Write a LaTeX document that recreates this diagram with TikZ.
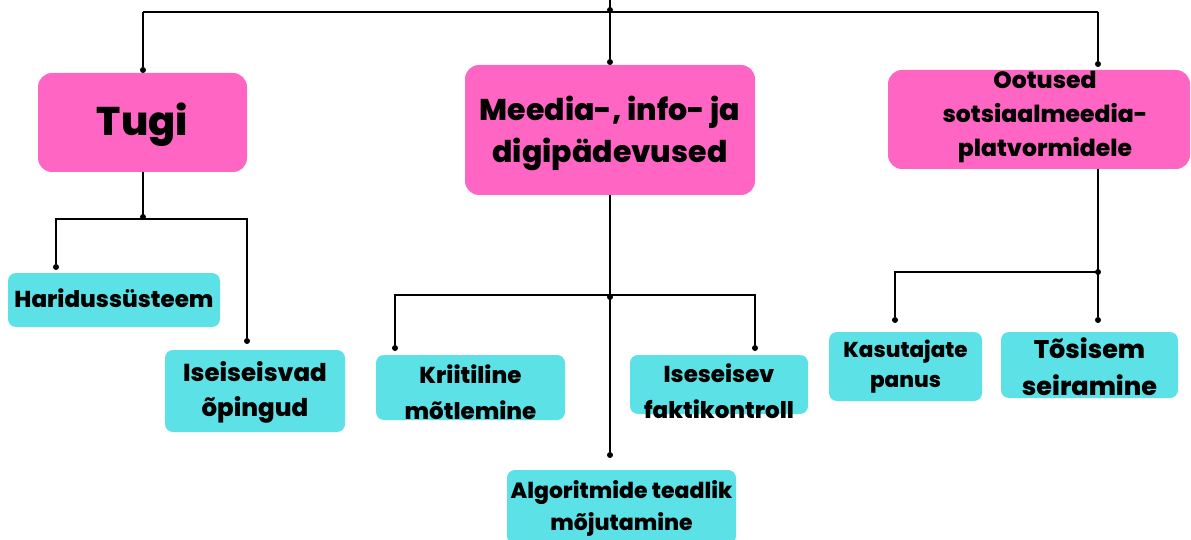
\documentclass[tikz,border=0pt]{standalone}
\usepackage{fontspec}
\setmainfont{Poppins}[BoldFont={* ExtraBold}]
\definecolor{pinkbox}{HTML}{FF66C4}
\definecolor{cyanbox}{HTML}{5CE1E6}
\begin{document}
\begin{tikzpicture}[x=1pt,y=-1pt,
  lnk/.style={line width=1.4pt,black},
  dotc/.style={circle,fill=black,inner sep=0pt,minimum size=6pt},
  pbox/.style={fill=pinkbox,rounded corners=14pt,inner sep=0pt},
  cbox/.style={fill=cyanbox,rounded corners=8pt,inner sep=0pt},
  txt/.style={align=center,inner sep=0pt}]
\useasboundingbox (0,0) rectangle (1191,540);
% main boxes
\node[pbox,minimum width=209pt,minimum height=99pt] (tugi) at (142.5,122.5) {};
\node[txt,font=\bfseries\fontsize{40}{44}\selectfont] (tugi-t) at ([yshift=-2pt]tugi.center) {Tugi};
\node[pbox,minimum width=290pt,minimum height=130pt] (meedia) at (610,130) {};
\node[txt,font=\bfseries\fontsize{30}{42}\selectfont] (meedia-t) at ([yshift=-3pt]meedia.center) {Meedia-, info- ja\\digipädevused};
\node[pbox,minimum width=302pt,minimum height=99pt] (ootused) at (1039,119.5) {};
\node[txt,font=\bfseries\fontsize{23.5}{34}\selectfont] (ootused-t) at ([xshift=6pt,yshift=3pt]ootused.center) {Ootused\\sotsiaalmeedia-\\platvormidele};
% sub boxes
\node[cbox,minimum width=212pt,minimum height=54pt] (harid) at (114,300) {};
\node[txt,font=\bfseries\fontsize{23}{28}\selectfont] (harid-t) at ([yshift=2pt]harid.center) {Haridussüsteem};
\node[cbox,minimum width=180pt,minimum height=82pt] (iseiseisvad) at (255,391) {};
\node[txt,font=\bfseries\fontsize{24.5}{35}\selectfont] (iseiseisvad-t) at ([yshift=-1pt]iseiseisvad.center) {Iseiseisvad\\õpingud};
\node[cbox,minimum width=189pt,minimum height=65pt] (kriit) at (470.5,387.5) {};
\node[txt,font=\bfseries\fontsize{23}{36}\selectfont] (kriit-t) at ([yshift=-5pt]kriit.center) {Kriitiline\\mõtlemine};
\node[cbox,minimum width=178pt,minimum height=59pt] (isesei) at (719,384.5) {};
\node[txt,font=\bfseries\fontsize{23}{36}\selectfont] (isesei-t) at ([yshift=-7pt]isesei.center) {Iseseisev\\faktikontroll};
\node[cbox,minimum width=229pt,minimum height=74pt] (algo) at (621.5,507) {};
\node[txt,font=\bfseries\fontsize{22}{32}\selectfont] (algo-t) at ([yshift=-1pt]algo.center) {Algoritmide teadlik\\mõjutamine};
\node[cbox,minimum width=153pt,minimum height=69pt] (kasut) at (905.5,366.5) {};
\node[txt,font=\bfseries\fontsize{21.5}{30}\selectfont] (kasut-t) at ([yshift=0pt]kasut.center) {Kasutajate\\panus};
\node[cbox,minimum width=177pt,minimum height=66pt] (tosis) at (1089.5,365) {};
\node[txt,font=\bfseries\fontsize{25.5}{37}\selectfont] (tosis-t) at ([yshift=-2pt]tosis.center) {Tõsisem\\seiramine};
% coordinates
\coordinate (top) at (610,0);
\coordinate (topj) at (610,12);
\coordinate (topl) at (143,12);
\coordinate (topr) at (1098,12);
\node[dotc] (dtop) at (610,10) {};
\node[dotc] (dtugi) at (143,70) {};
\node[dotc] (dmeedia) at (610,62) {};
\node[dotc] (dootused) at (1098,64) {};
\draw[lnk] (top) -- (topj);
\draw[lnk] (topl) -- (topr);
\draw[lnk] (topl) -- (dtugi);
\draw[lnk] (topj) -- (dmeedia);
\draw[lnk] (topr) -- (dootused);
% Tugi children
\coordinate (tj) at (143,219);
\node[dotc] (dtj) at (143,217) {};
\node[dotc] (dharid) at (56,267) {};
\node[dotc] (diseis) at (247,341) {};
\draw[lnk] (tugi.south -| tj) -- (tj);
\draw[lnk] (dharid) |- (tj) -| (diseis);
% Meedia children
\coordinate (mj) at (610,295);
\node[dotc] (dmj) at (610,297) {};
\node[dotc] (dkriit) at (395,348) {};
\node[dotc] (disesei) at (755,348) {};
\node[dotc] (dalgo) at (610,455) {};
\draw[lnk] (meedia.south) -- (dalgo);
\draw[lnk] (dkriit) |- (mj) -| (disesei);
% Ootused children
\coordinate (oj) at (1098,272);
\node[dotc] (doj) at (1098,272) {};
\node[dotc] (dkasut) at (895,320) {};
\node[dotc] (dtosis) at (1098,320) {};
\draw[lnk] (ootused.south -| oj) -- (dtosis);
\draw[lnk] (dkasut) |- (oj);
\end{tikzpicture}
\end{document}
